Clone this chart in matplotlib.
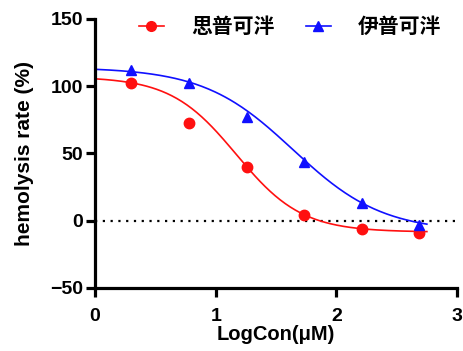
import numpy as np
import matplotlib
matplotlib.use("Agg")
from matplotlib import pyplot as plt

plt.rcParams['font.family'] = ['Liberation Sans', 'Noto Sans CJK SC', 'DejaVu Sans']
plt.rcParams['font.weight'] = 'bold'

# log10 of concentration (uM)
log_con = [0.301, 0.778, 1.255, 1.732, 2.210, 2.687]
# 思普可泮
red_vals = [102.4, 72.6, 39.6, 4.2, -5.9, -8.9]
# 伊普可泮
blue_vals = [112.3, 102.4, 77.1, 43.3, 13.1, -3.2]
labels = ["思普可泮", "伊普可泮"]

# four parameter logistic fit: top, bottom, logIC50, hill
red_fit = [107.0, -8.5, 1.17, 1.6]
blue_fit = [114.0, -8.5, 1.64, 1.17]


def curve(x, p):
    top, bottom, ic50, hill = p
    return bottom + (top - bottom) / (1 + 10 ** ((x - ic50) * hill))


fig = plt.figure(figsize=(4.64, 3.51), dpi=100)
ax = fig.add_axes([0.205, 0.18, 0.78, 0.766])

xs = np.linspace(0, 2.75, 200)
ax.axhline(0, color='black', linestyle=(0, (1, 2.5)), linewidth=1.6, zorder=1)
ax.plot(xs, curve(xs, red_fit), color='#ff1010', linewidth=1.2)
ax.plot(xs, curve(xs, blue_fit), color='#1010ff', linewidth=1.2)
ax.plot(log_con, red_vals, 'o', color='#ff1010', markersize=7.5, zorder=3)
ax.plot(log_con, blue_vals, '^', color='#1010ff', markersize=7.5, zorder=3)

# legend handles
h1, = ax.plot([], [], '-o', color='#ff1010', linewidth=1.2, markersize=7)
h2, = ax.plot([], [], '-^', color='#1010ff', linewidth=1.2, markersize=7)
fig.legend([h1, h2], labels, loc='center', bbox_to_anchor=(0.625, 0.925),
           ncol=2, frameon=False, handlelength=1.2, handletextpad=1.3,
           columnspacing=1.5, prop={'family': ['Noto Sans CJK SC'], 'weight': 'bold', 'size': 15})

ax.set_xlim(0, 3)
ax.set_ylim(-50, 150)
ax.set_xticks([0, 1, 2, 3])
ax.set_yticks([-50, 0, 50, 100, 150])
for s in ['top', 'right']:
    ax.spines[s].set_visible(False)
for s in ['left', 'bottom']:
    ax.spines[s].set_linewidth(2.3)
ax.tick_params(width=2.3, length=6.5, labelsize=14)
ax.tick_params(axis='x', pad=8)
ax.tick_params(axis='y', pad=2)
for lab in ax.get_xticklabels() + ax.get_yticklabels():
    lab.set_fontweight('bold')

ax.set_xlabel("LogCon(μM)", fontsize=14.5, fontweight='bold', labelpad=0)
ax.set_ylabel("hemolysis rate (%)", fontsize=15, fontweight='bold', labelpad=12)

fig.savefig("out.png", dpi=100)
